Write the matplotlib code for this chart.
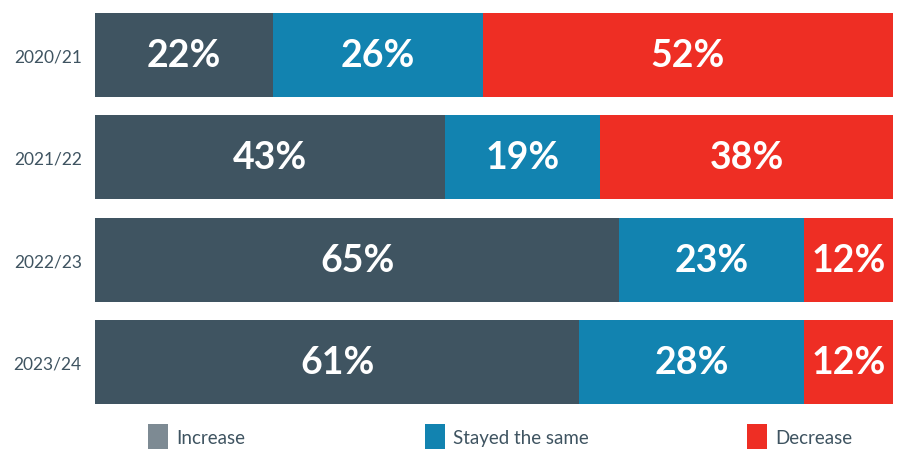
import matplotlib.pyplot as plt
from matplotlib.patches import Patch

plt.rcParams['font.family'] = ['Lato', 'DejaVu Sans']

years = ['2020/21', '2021/22', '2022/23', '2023/24']
increase = [22.3, 43.9, 65.7, 60.7]
same = [26.3, 19.4, 23.2, 28.2]
decrease = [51.4, 36.7, 11.1, 11.1]
increase_lbl = ['22%', '43%', '65%', '61%']
same_lbl = ['26%', '19%', '23%', '28%']
decrease_lbl = ['52%', '38%', '12%', '12%']

series_names = ['Increase', 'Stayed the same', 'Decrease']
bar_colors = ['#3F5461', '#1283B0', '#EE2E24']
legend_colors = ['#7D8A93', '#1283B0', '#EE2E24']
text_col = '#3F5461'

fig = plt.figure(figsize=(9, 4.6), dpi=100)
ax = fig.add_axes([95 / 900, 1 - 405 / 460, 798 / 900, 391 / 460])

ypos = range(len(years))
left = [0] * len(years)
for vals, lbls, col in zip([increase, same, decrease],
                           [increase_lbl, same_lbl, decrease_lbl], bar_colors):
    ax.barh(ypos, vals, left=left, height=0.82, color=col, edgecolor='none')
    for y, v, l, t in zip(ypos, vals, left, lbls):
        ax.text(l + v / 2, y, t, ha='center', va='center', color='white',
                fontsize=27, fontweight='bold')
    left = [a + b for a, b in zip(left, vals)]

ax.set_xlim(0, 100)
ax.set_ylim(3.41, -0.41)
ax.set_yticks(list(ypos))
ax.set_yticklabels(years, fontsize=12.5, color=text_col)
ax.tick_params(axis='y', length=0, pad=9.5)
ax.set_xticks([])
for s in ax.spines.values():
    s.set_visible(False)

# one legend per entry so the uneven spacing of the original can be kept
legend_x = [148, 425, 747]
for name, col, lx in zip(series_names, legend_colors, legend_x):
    fig.legend([Patch(facecolor=col, edgecolor='none')], [name], loc='center left',
               bbox_to_anchor=(lx / 900, 1 - 437.5 / 460), frameon=False,
               fontsize=13.5, labelcolor=text_col, borderpad=0, borderaxespad=0,
               handlelength=1.05, handleheight=1.6, handletextpad=0.45)

fig.savefig('out.png', dpi=100)
